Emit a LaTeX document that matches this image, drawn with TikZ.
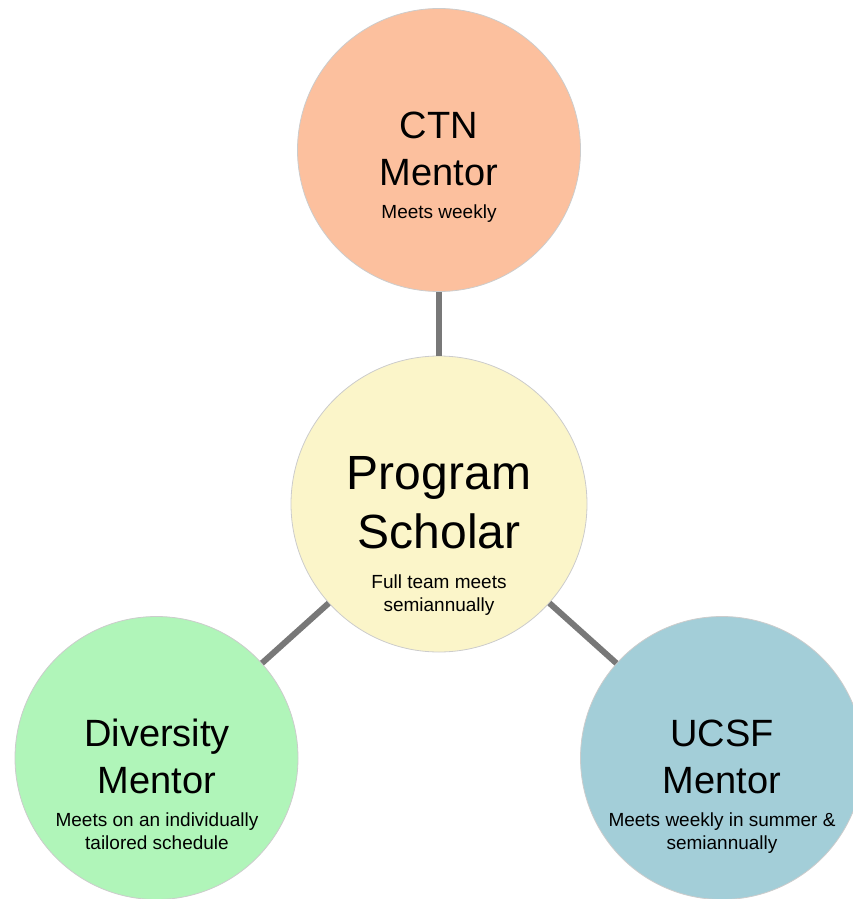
\documentclass[tikz,border=0pt]{standalone}
\usepackage{fontspec}
\setmainfont{Liberation Sans}
\usetikzlibrary{positioning}
\definecolor{ctnfill}{RGB}{252,192,158}
\definecolor{scholarfill}{RGB}{251,245,201}
\definecolor{diversityfill}{RGB}{176,245,185}
\definecolor{ucsffill}{RGB}{163,206,216}
\definecolor{linkgray}{RGB}{120,120,120}

\begin{document}
\begin{tikzpicture}[x=1pt,y=-1pt]
\tikzset{mentor/.style={circle,draw=black!20,line width=0.8pt,inner sep=0pt,minimum size=283pt}}
\tikzset{title/.style={anchor=base,align=center,font=\fontsize{38}{47}\selectfont}}
\tikzset{note/.style={anchor=base,align=center,font=\fontsize{19}{23}\selectfont}}
\tikzset{link/.style={draw=linkgray,line width=6pt}}
\useasboundingbox (0,0) rectangle (852,899);

\node[mentor,fill=scholarfill,minimum size=296pt] (scholar) at (439,504) {};
\node[mentor,fill=ctnfill] (ctn) at (439,150) {};
\node[mentor,fill=diversityfill] (diversity) at (156.5,758) {};
\node[mentor,fill=ucsffill] (ucsf) at (722,758) {};

\draw[link] (scholar) -- (ctn);
\draw[link] (scholar) -- (diversity);
\draw[link] (scholar) -- (ucsf);

% base of a two-line node is the last line
\node[title,font=\fontsize{48}{59}\selectfont] (scholar-t) at (439,548) {Program\\Scholar};
\node[note] (scholar-n) at (439,611) {Full team meets\\semiannually};

\node[title] (ctn-t) at (439,185) {CTN\\Mentor};
\node[note] (ctn-n) at (439,218) {Meets weekly};

\node[title] (diversity-t) at (157,793) {Diversity\\Mentor};
\node[note] (diversity-n) at (157,849) {Meets on an individually\\tailored schedule};

\node[title] (ucsf-t) at (722,793) {UCSF\\Mentor};
\node[note] (ucsf-n) at (722,849) {Meets weekly in summer \&\\semiannually};
\end{tikzpicture}
\end{document}
